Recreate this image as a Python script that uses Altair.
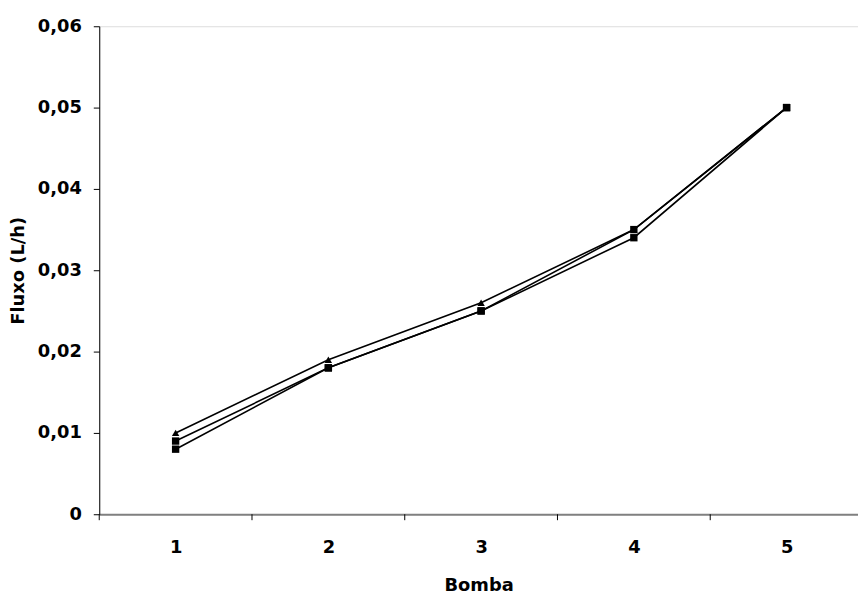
import altair as alt
import pandas as pd

bomba = [1, 2, 3, 4, 5]
serie_a = [0.010, 0.019, 0.026, 0.035, 0.050]
serie_b = [0.009, 0.018, 0.025, 0.035, 0.050]
serie_c = [0.008, 0.018, 0.025, 0.034, 0.050]
series_names = ["Série 1", "Série 2", "Série 3"]
x_tick_positions = [0.5, 1.5, 2.5, 3.5, 4.5]
y_ticks = [0, 0.01, 0.02, 0.03, 0.04, 0.05, 0.06]

rows = []
for name, vals in zip(series_names, [serie_a, serie_b, serie_c]):
    for b, v in zip(bomba, vals):
        rows.append({"Bomba": b, "Fluxo": v, "Serie": name})
df = pd.DataFrame(rows)
ticks_df = pd.DataFrame({"Bomba": x_tick_positions})

FONT = "DejaVu Sans"
xscale = alt.Scale(domain=[0.5, 5.4675], nice=False, zero=False)
yscale = alt.Scale(domain=[0, 0.06], nice=False)

x = alt.X(
    "Bomba:Q",
    scale=xscale,
    axis=alt.Axis(
        values=bomba, ticks=False, grid=False, domainColor="#808080", domainWidth=2,
        labelFont=FONT, labelFontSize=18, labelFontWeight="bold", labelColor="black",
        labelPadding=25, format="d",
        title="Bomba", titleFont=FONT, titleFontSize=18, titleFontWeight="bold",
        titleColor="black", titlePadding=20,
    ),
)
y = alt.Y(
    "Fluxo:Q",
    scale=yscale,
    axis=alt.Axis(
        values=y_ticks, grid=False, domainColor="black", tickColor="black", tickSize=6,
        labelExpr="datum.value == 0 ? '0' : replace(format(datum.value, '.2f'), '.', ',')",
        labelFont=FONT, labelFontSize=18, labelFontWeight="bold", labelColor="black",
        labelPadding=12,
        title="Fluxo (L/h)", titleFont=FONT, titleFontSize=18, titleFontWeight="bold",
        titleColor="black", titlePadding=10,
    ),
)

lines = alt.Chart(df).mark_line(color="black", strokeWidth=1.6).encode(
    x=x, y=y, detail="Serie:N"
)
points = alt.Chart(df).mark_point(filled=True, opacity=1, color="black", size=55).encode(
    x=x,
    y=y,
    shape=alt.Shape(
        "Serie:N",
        scale=alt.Scale(domain=series_names, range=["triangle-up", "square", "square"]),
        legend=None,
    ),
)
xticks = alt.Chart(ticks_df).mark_rule(color="black", strokeWidth=1).encode(
    x=x,
    y=alt.value(492),
    y2=alt.value(498),
)

chart = (
    alt.layer(lines, points, xticks)
    .properties(
        width=765,
        height=492,
        autosize=alt.AutoSizeParams(type="none"),
        padding={"left": 92, "top": 16, "right": 0, "bottom": 78},
    )
    .configure_view(stroke=None)
    .configure(background="white")
)

chart.save("out.html", embed_options={"renderer": "svg", "actions": False})
